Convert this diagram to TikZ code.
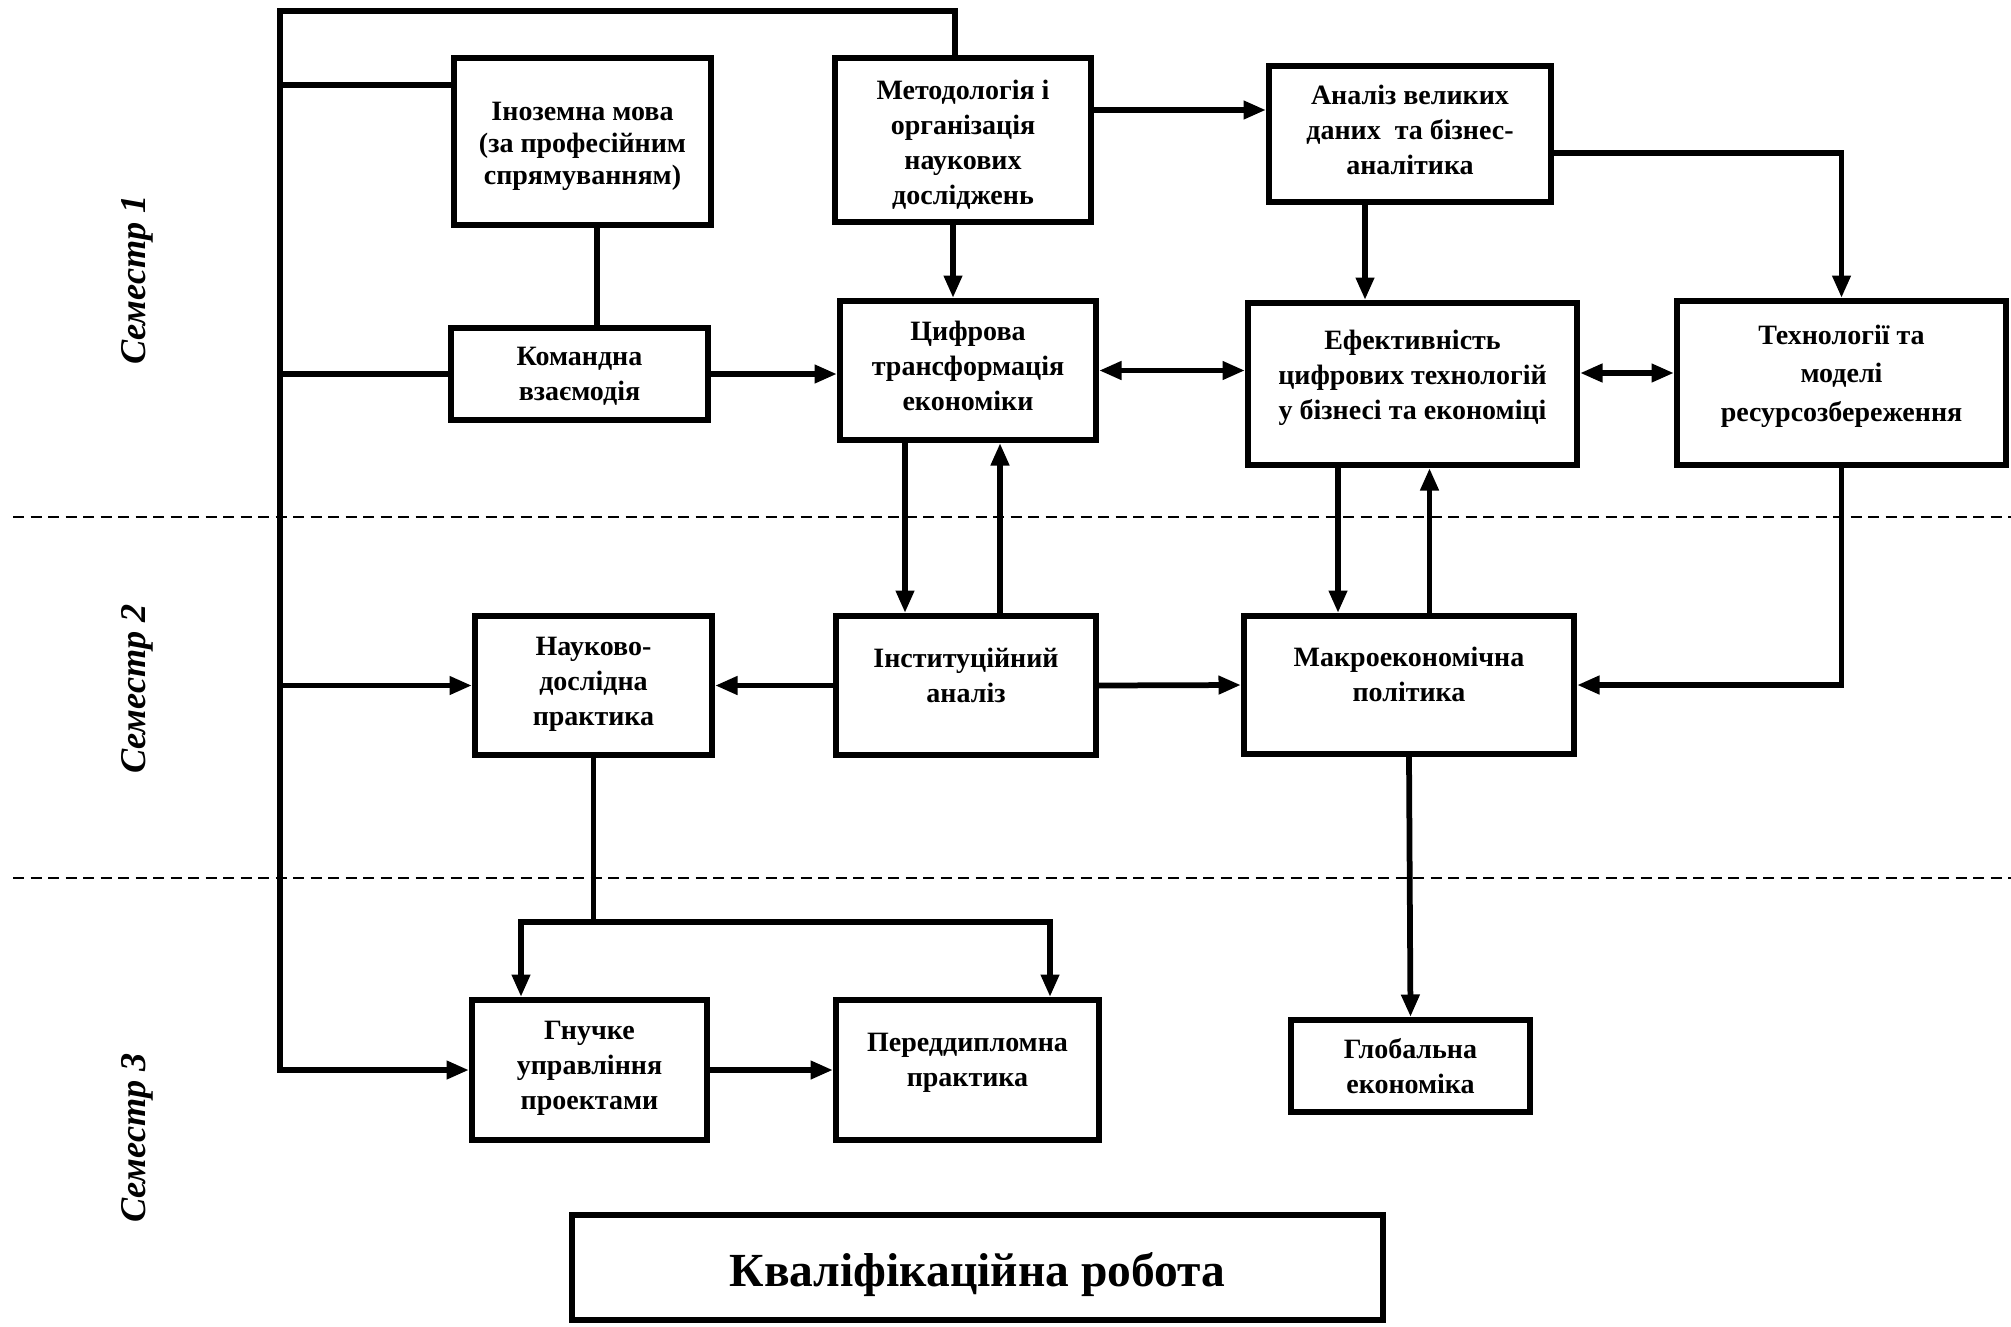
\documentclass[tikz,border=0pt]{standalone}
\usepackage{fontspec}
\setmainfont{Liberation Serif}
\usetikzlibrary{arrows.meta,positioning}

\begin{document}
\begin{tikzpicture}[
  x=0.4pt, y=-0.4pt,
  font=\bfseries\fontsize{11.2}{14}\selectfont,
  box/.style={draw, line width=2.5pt, align=center, inner sep=2pt},
  line/.style={line width=2.3pt},
  arrow/.style={-{Triangle[length=9pt,width=7pt]}, line width=2.3pt},
  both/.style={{Triangle[length=9pt,width=7pt]}-{Triangle[length=9pt,width=7pt]}, line width=2.3pt},
  sep/.style={line width=1.1pt, dash pattern=on 4.4pt off 2.6pt},
  term/.style={font=\bfseries\itshape\fontsize{14.5}{16}\selectfont, rotate=90},
  lift/.style={text depth=#1}
]
\useasboundingbox (0,0) rectangle (2011,1326);

\draw[sep] (13,517) -- (2011,517);
\draw[sep] (13,878) -- (2011,878);

\node[term] (sem1) at (137,280) {Семестр 1};
\node[term] (sem2) at (137,689) {Семестр 2};
\node[term] (sem3) at (137,1138) {Семестр 3};

\node[box, font=\bfseries\fontsize{11.2}{12.8}\selectfont, text height=37pt, minimum width=102.7pt, minimum height=66.7pt] (foreign) at (582.5,141.5) {Іноземна мова\\(за професійним\\спрямуванням)};
\node[box, text height=53.7pt, minimum width=102.3pt, minimum height=65.5pt] (method) at (963,140) {Методологія і\\організація\\наукових\\досліджень};
\node[box, lift=3pt, minimum width=112.7pt, minimum height=54.3pt] (bigdata) at (1410,134) {Аналіз великих\\даних \ та бізнес-\\аналітика};
\node[box, text height=23.4pt, minimum width=102.7pt, minimum height=36.7pt] (team) at (579.5,374) {Командна\\взаємодія};
\node[box, lift=3.5pt, minimum width=102.3pt, minimum height=55.5pt] (digital) at (968,370.5) {Цифрова\\трансформація\\економіки};
\node[box, lift=7.5pt, minimum width=131.5pt, minimum height=64.7pt] (effect) at (1412.5,384) {Ефективність\\цифрових технологій\\у бізнесі та економіці};
\node[box, lift=8pt, font=\bfseries\fontsize{11.2}{15.4}\selectfont, minimum width=131.5pt, minimum height=65.5pt] (resource) at (1841.5,383) {Технології та\\моделі\\ресурсозбереження};

\node[box, lift=3.5pt, minimum width=94.7pt, minimum height=55.5pt] (research) at (593.5,685.5) {Науково-\\дослідна\\практика};
\node[box, lift=8.5pt, minimum width=103.9pt, minimum height=55.5pt] (instit) at (966,685.5) {Інституційний\\аналіз};
\node[box, lift=8.5pt, minimum width=131.9pt, minimum height=55.1pt] (macro) at (1409,685) {Макроекономічна\\політика};

\node[box, lift=3.5pt, minimum width=93.9pt, minimum height=55.9pt] (agile) at (589.5,1070) {Гнучке\\управління\\проектами};
\node[box, lift=8.5pt, minimum width=105.1pt, minimum height=55.9pt] (prediploma) at (967.5,1070) {Переддипломна\\практика};
\node[box, minimum width=95.5pt, minimum height=36.7pt] (global) at (1410.5,1066) {Глобальна\\економіка};

\node[box, font=\bfseries\fontsize{19}{22}\selectfont, text height=19pt, minimum width=324.3pt, minimum height=41.9pt] (thesis) at (977.5,1267.5) {Кваліфікаційна робота};

\coordinate (bustop) at (280,11);
\coordinate (split) at (593,922);

\draw[arrow] ([xshift=-3.2pt]method.north) |- (bustop) -- (bustop |- agile.west) -- (agile.west);
\draw[line] ([yshift=22.6pt]foreign.west) -- ([yshift=22.6pt]foreign.west -| bustop);
\draw[line] (team.west) -- (team.west -| bustop);
\draw[arrow] (bustop |- research.west) -- (research.west);
\draw[line] ([xshift=5.8pt]foreign.south) -- ([xshift=5.8pt]foreign.south |- team.north);

\draw[arrow] (team.east) -- (team.east -| digital.west);
\draw[arrow] ([xshift=-4pt]method.south) -- ([xshift=-4pt]method.south |- digital.north);
\draw[arrow] ([yshift=12pt]method.east) -- ([yshift=12pt]method.east -| bigdata.west);
\draw[arrow] ([xshift=-18pt]bigdata.south) -- ([xshift=-18pt]bigdata.south |- effect.north);
\draw[arrow] ([yshift=-7.6pt]bigdata.east) -| (resource.north);
\draw[both] (digital.east) -- (digital.east -| effect.west);
\draw[both] ([yshift=4.4pt]effect.east) -- ([yshift=4.4pt]effect.east -| resource.west);

\draw[arrow] ([xshift=-25.2pt]digital.south) -- ([xshift=-25.2pt]digital.south |- instit.north);
\draw[arrow] ([xshift=13.6pt]instit.north) -- ([xshift=13.6pt]instit.north |- digital.south);
\draw[arrow] ([xshift=-29.8pt]effect.south) -- ([xshift=-29.8pt]effect.south |- macro.north);
\draw[arrow] ([xshift=8.2pt]macro.north) -- ([xshift=8.2pt]macro.north |- effect.south);
\draw[arrow] (resource.south) |- (macro.east);
\draw[arrow] (instit.west) -- (research.east);
\draw[arrow] (instit.east) -- (macro.west);

\draw[line] (research.south) -- (research.south |- split);
\draw[arrow] (research.south |- split) -| ([xshift=-27.4pt]agile.north);
\draw[arrow] (research.south |- split) -| ([xshift=33pt]prediploma.north);
\draw[arrow] (agile.east) -- (prediploma.west);
\draw[arrow] (macro.south) -- (global.north);
\end{tikzpicture}
\end{document}
